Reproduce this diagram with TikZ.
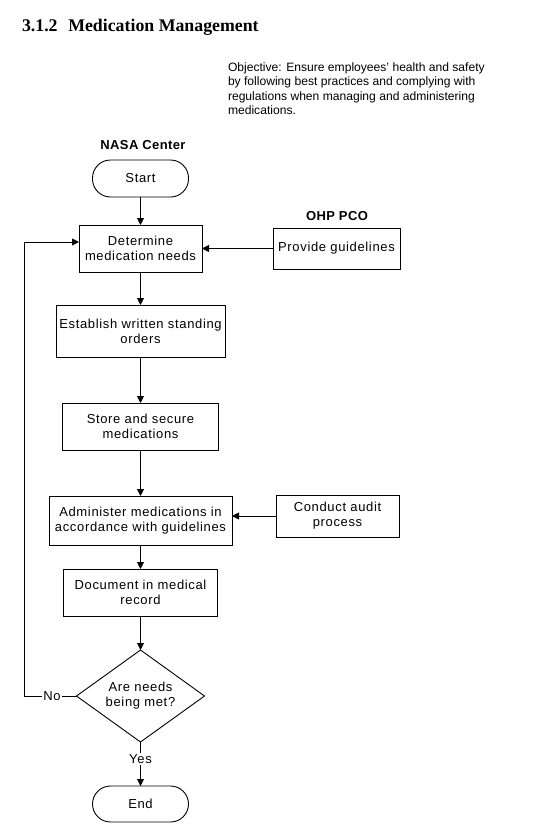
\documentclass[tikz,border=0pt]{standalone}
\usepackage{fontspec}
\setmainfont{Liberation Sans}
\newfontfamily\titlefont{Liberation Serif}
\newfontfamily\boxfont[LetterSpace=5]{Liberation Sans}
\newfontfamily\lblfont[LetterSpace=3]{Liberation Sans}
\usetikzlibrary{arrows.meta,shapes.geometric}
\begin{document}
\begin{tikzpicture}[x=1pt,y=-1pt,
  every node/.style={inner sep=0pt,outer sep=0pt},
  line/.style={draw,line width=0.9pt},
  arr/.style={line,-{Triangle[length=7pt,width=7pt]}},
  txt/.style={font=\boxfont\fontsize{13}{15}\selectfont,align=center},
  box/.style={txt,draw,line width=0.9pt},
  term/.style={txt,draw,line width=0.9pt,rounded corners=18pt},
  dec/.style={txt,draw,line width=0.9pt,diamond,aspect=1.39},
  lbl/.style={font=\lblfont\bfseries\fontsize{13}{15}\selectfont}
]
\useasboundingbox (0,0) rectangle (537,833);
\node[anchor=base west,font=\titlefont\bfseries\fontsize{17.8}{20}\selectfont] (title) at (22,31) {3.1.2\hspace{0.6em}Medication Management};
\node[anchor=north west,align=left,font=\fontsize{12.1}{14.5}\selectfont] (obj) at (228,62.5)
  {Objective: Ensure employees' health and safety\\by following best practices and complying with\\regulations when managing and administering\\medications.};
\node[lbl] (nasa) at (143,145) {NASA Center};
\node[lbl] (ohp) at (337,216) {OHP PCO};

\node[term,minimum width=96pt,minimum height=37pt] (start) at (140.5,178.5) {Start};
\node[box,minimum width=123pt,minimum height=47pt] (det) at (140.5,248.5) {Determine\\medication needs};
\node[box,minimum width=127pt,minimum height=41pt] (prov) at (336.5,248.5) {Provide guidelines};
\node[box,minimum width=169pt,minimum height=52pt] (est) at (140.5,331) {Establish written standing\\orders};
\node[box,minimum width=156pt,minimum height=47pt] (store) at (140.5,426.5) {Store and secure\\medications};
\node[box,minimum width=183pt,minimum height=49pt] (adm) at (140.5,520.5) {Administer medications in\\accordance with guidelines};
\node[box,minimum width=123pt,minimum height=42pt] (cond) at (337.5,516) {Conduct audit\\process};
\node[box,minimum width=154pt,minimum height=47pt] (doc) at (140.5,592.5) {Document in medical\\record};
\node[dec,minimum width=128pt,minimum height=92pt] (q) at (140.5,696) {Are needs\\being met?};
\node[term,minimum width=96pt,minimum height=36pt] (end) at (140.5,804) {End};
\node[txt,inner sep=1.5pt] (no) at (52,696) {No};
\node[txt,inner sep=1.5pt,fill=white] (yes) at (140.5,759) {Yes};
\coordinate (lb) at (24.5,696);
\coordinate (lt) at (24.5,242);

\draw[arr] (start) -- (det);
\draw[arr] (det) -- (est);
\draw[arr] (est) -- (store);
\draw[arr] (store) -- (adm);
\draw[arr] (adm) -- (doc);
\draw[arr] (doc) -- (q);
\draw[arr] (prov) -- (det);
\draw[arr] (cond.west) -- (cond.west -| adm.east);
\draw[line] (q.south) -- (yes.north);
\draw[arr] (yes.south) -- (end.north);
\draw[line] (q.west) -- (no.east);
\draw[arr] (no.west) -- (lb) -- (lt) -- (lt -| det.west);
\end{tikzpicture}
\end{document}
